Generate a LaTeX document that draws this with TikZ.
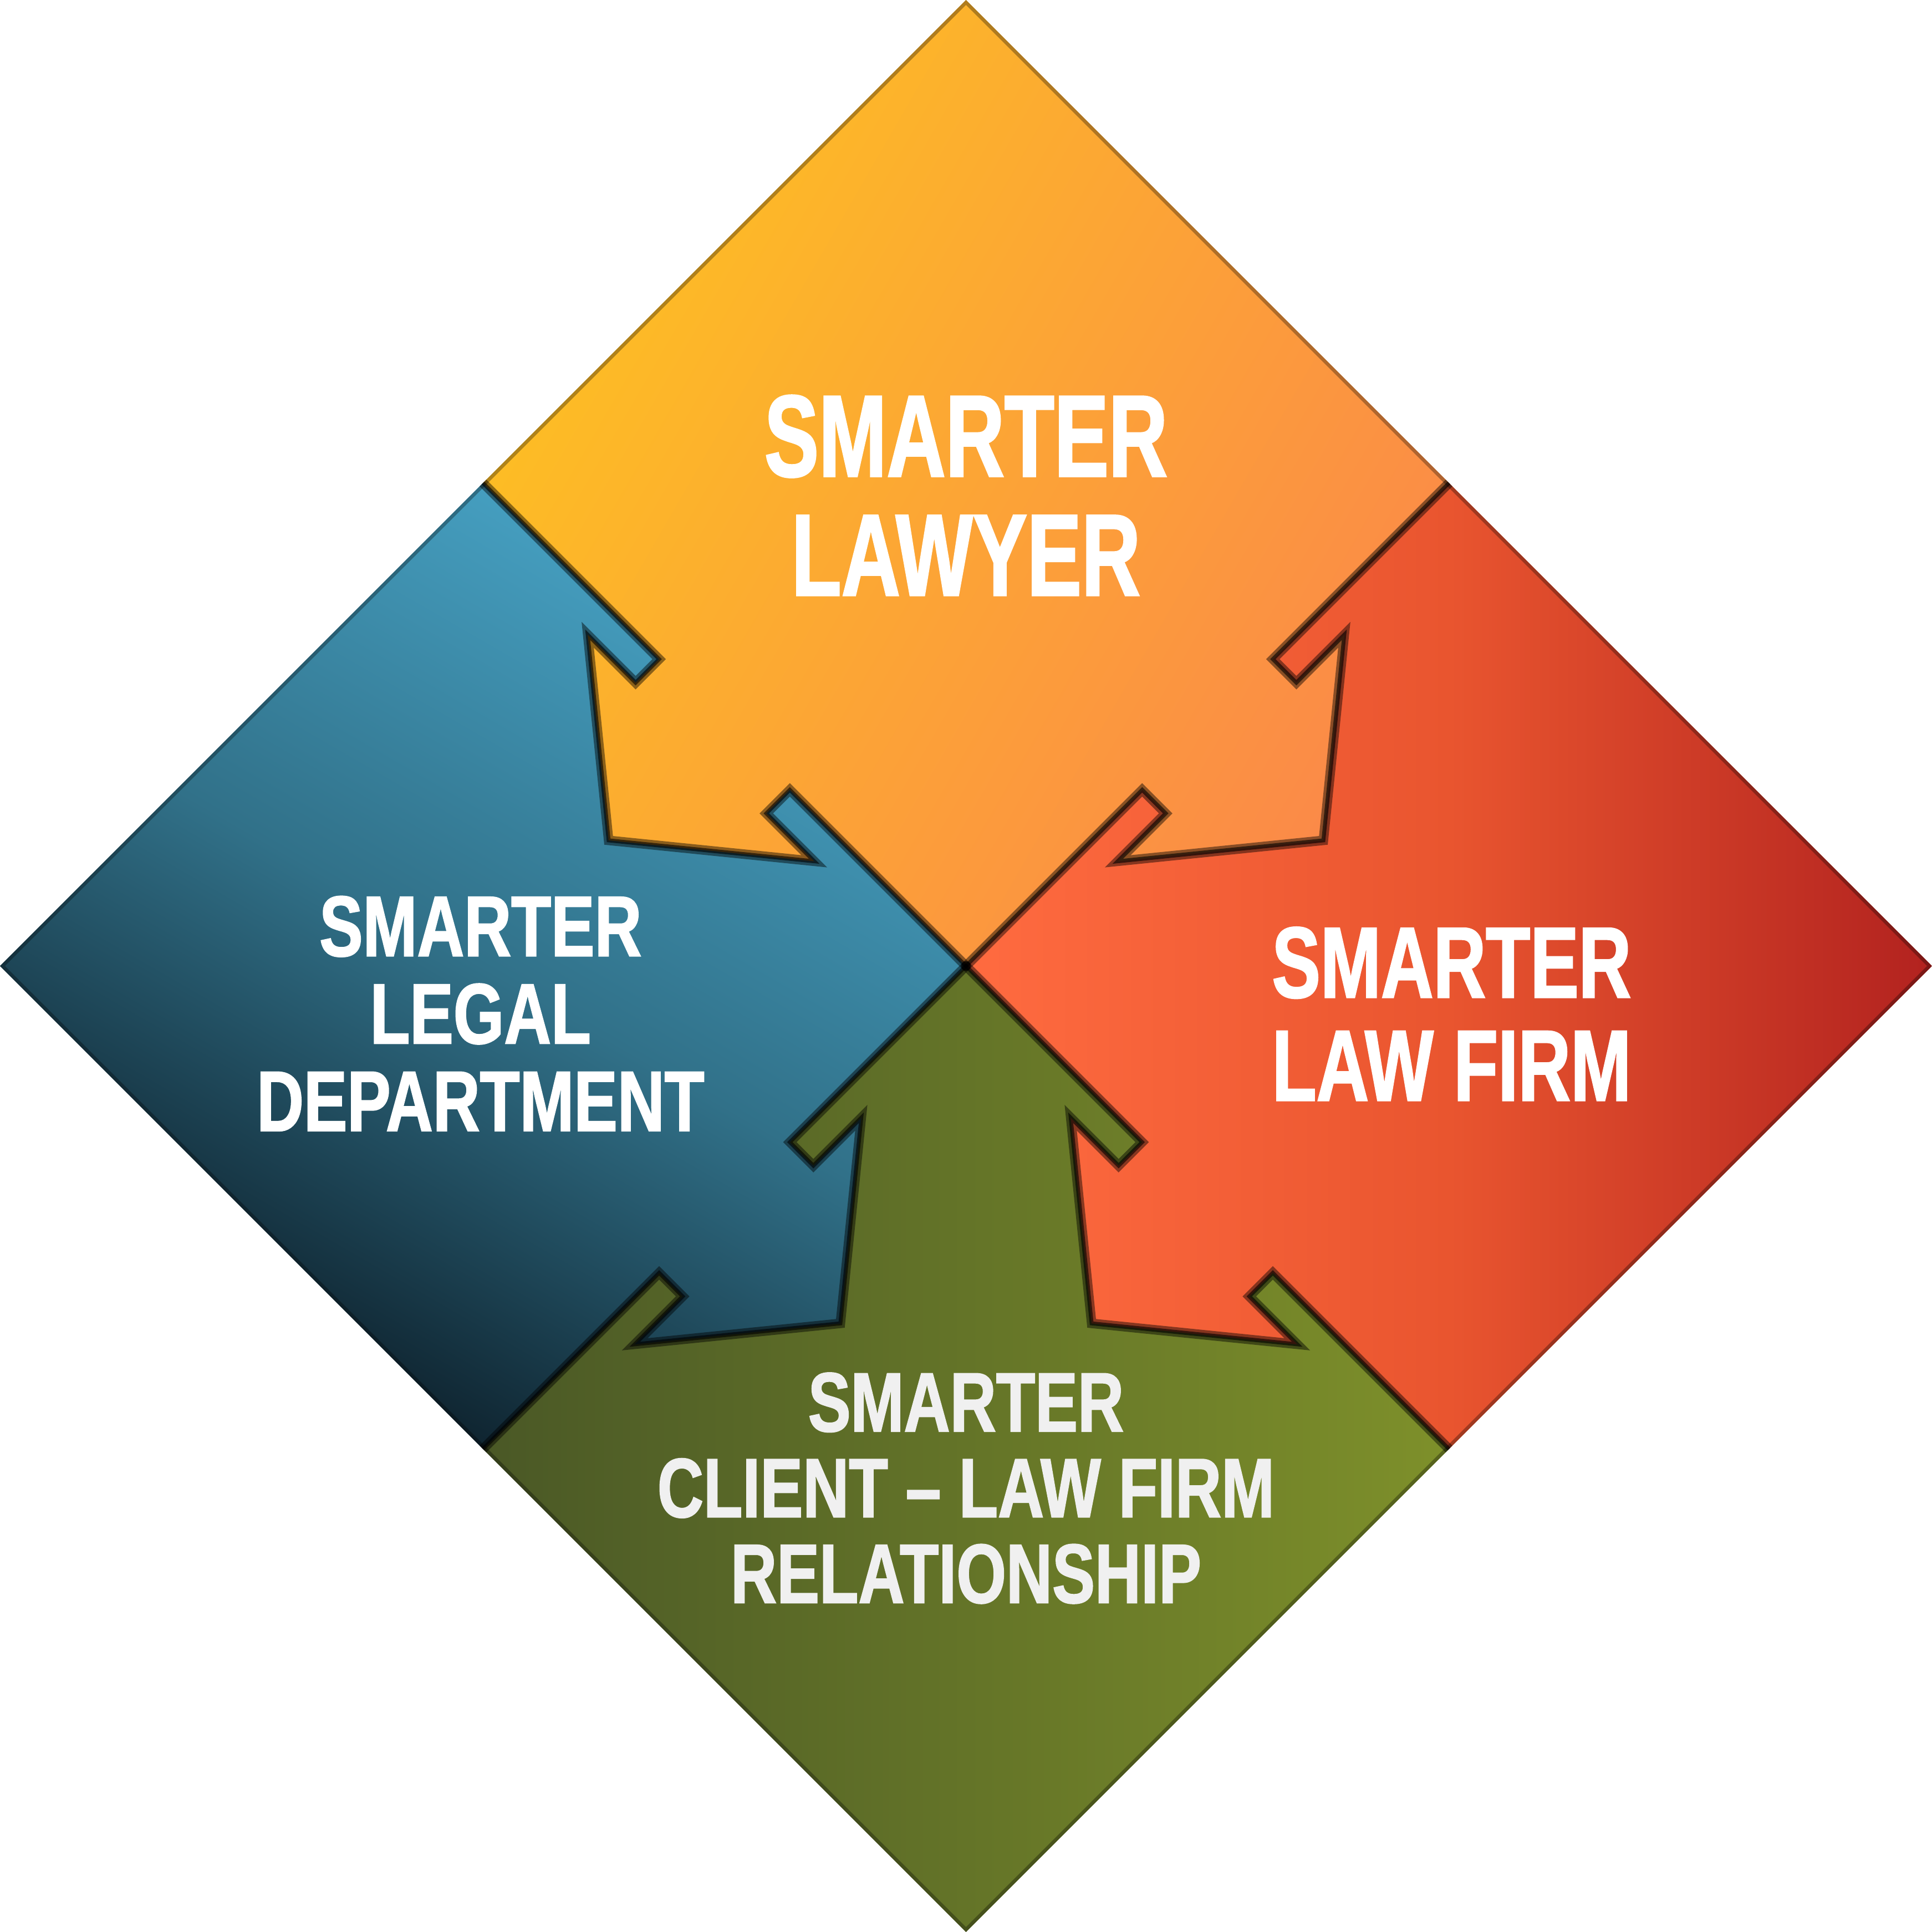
\documentclass[tikz,border=0pt]{standalone}
\usepackage{fontspec}
\newfontfamily\lawyerface{Liberation Sans}[FakeStretch=0.70, FakeBold=1.4]
\newfontfamily\firmface{Liberation Sans}[FakeStretch=0.72, FakeBold=1.4]
\newfontfamily\deptface{Liberation Sans}[FakeStretch=0.76, FakeBold=1.4]

\definecolor{lawyertop}{HTML}{FDC022}
\definecolor{lawyerbottom}{HTML}{FB8A48}
\definecolor{depttop}{HTML}{48A5C8}
\definecolor{deptmid}{HTML}{317189}
\definecolor{deptbottom}{HTML}{0A1923}
\definecolor{firmleft}{HTML}{FF6B40}
\definecolor{firmmid}{HTML}{E9552F}
\definecolor{firmright}{HTML}{B2221F}
\definecolor{clientleft}{HTML}{4A5826}
\definecolor{clientright}{HTML}{7E902A}

\begin{document}
\begin{tikzpicture}[
    tag/.style={text=white, align=center, inner sep=0pt},
    seam/.style={draw=black, draw opacity=.45, line width=2.2pt, line cap=round},
    seamcore/.style={draw=black, draw opacity=.6, line width=.9pt, line cap=round},
    rim/.style={draw=black, draw opacity=.3, line width=1.6pt},
    arrowpath/.style={insert path={(-0.75,-0.1) -- (-0.75,0.27) -- (-1.30,0.27) -- (0,1.33) -- (1.30,0.27) -- (0.75,0.27) -- (0.75,-0.1) -- cycle}},
    seampath/.style={insert path={(-2.772,0) -- (-0.75,0) -- (-0.75,0.27) -- (-1.30,0.27) -- (0,1.33) -- (1.30,0.27) -- (0.75,0.27) -- (0.75,0) -- (2.772,0)}},
    lawyershade/.style={top color=lawyertop, bottom color=lawyerbottom, shading angle=60},
    deptshade/.style={top color=depttop, bottom color=deptbottom, middle color=deptmid, shading angle=-30},
    firmshade/.style={left color=firmleft, right color=firmright, middle color=firmmid},
    clientshade/.style={left color=clientleft, right color=clientright},
    lawyerfont/.style={font=\lawyerface\bfseries\fontsize{26.9}{27.5}\selectfont},
    firmfont/.style={font=\firmface\bfseries\fontsize{23.3}{23.8}\selectfont},
    deptfont/.style={font=\deptface\bfseries\fontsize{19.8}{20.2}\selectfont},
    clientfont/.style={font=\deptface\bfseries\fontsize{19.4}{19.8}\selectfont}
  ]
  \useasboundingbox (-7.84,-7.84) rectangle (7.84,7.84);

  % middles of the four inner edges
  \coordinate (lawyer-dept) at (-1.96,1.96);
  \coordinate (lawyer-firm) at (1.96,1.96);
  \coordinate (dept-client) at (-1.96,-1.96);
  \coordinate (firm-client) at (1.96,-1.96);

  \begin{scope}
    \clip (0,7.84) -- (7.84,0) -- (0,-7.84) -- (-7.84,0) -- cycle;

    % client relationship (bottom)
    \shade[clientshade] (-3.92,-7.84) rectangle (3.92,0);

    % legal department (left) and its arrow
    \begin{scope}
      \clip (0,0) -- (-3.92,3.92) -- (-7.84,0) -- (-3.92,-3.92) -- cycle;
      \shade[deptshade] (-7.84,-3.92) rectangle (0,3.92);
    \end{scope}
    \begin{scope}
      \clip[shift={(dept-client)}, rotate=-135, arrowpath];
      \shade[deptshade] (-7.84,-3.92) rectangle (0,3.92);
    \end{scope}

    % law firm (right) and its arrow
    \begin{scope}
      \clip (0,0) -- (3.92,3.92) -- (7.84,0) -- (3.92,-3.92) -- cycle;
      \shade[firmshade] (0,-3.92) rectangle (7.84,3.92);
    \end{scope}
    \begin{scope}
      \clip[shift={(firm-client)}, rotate=135, arrowpath];
      \shade[firmshade] (0,-3.92) rectangle (7.84,3.92);
    \end{scope}

    % lawyer (top) and its two arrows
    \begin{scope}
      \clip (0,0) -- (-3.92,3.92) -- (0,7.84) -- (3.92,3.92) -- cycle;
      \shade[lawyershade] (-3.92,0) rectangle (3.92,7.84);
    \end{scope}
    \begin{scope}
      \clip[shift={(lawyer-dept)}, rotate=135, arrowpath];
      \shade[lawyershade] (-3.92,0) rectangle (3.92,7.84);
    \end{scope}
    \begin{scope}
      \clip[shift={(lawyer-firm)}, rotate=-135, arrowpath];
      \shade[lawyershade] (-3.92,0) rectangle (3.92,7.84);
    \end{scope}

    % seams between the pieces
    \draw[seam, shift={(lawyer-dept)}, rotate=135, seampath];
    \draw[seam, shift={(lawyer-firm)}, rotate=-135, seampath];
    \draw[seam, shift={(dept-client)}, rotate=-135, seampath];
    \draw[seam, shift={(firm-client)}, rotate=135, seampath];
    \draw[seamcore, shift={(lawyer-dept)}, rotate=135, seampath];
    \draw[seamcore, shift={(lawyer-firm)}, rotate=-135, seampath];
    \draw[seamcore, shift={(dept-client)}, rotate=-135, seampath];
    \draw[seamcore, shift={(firm-client)}, rotate=135, seampath];

    \draw[rim] (0,7.84) -- (7.84,0) -- (0,-7.84) -- (-7.84,0) -- cycle;
  \end{scope}

  % labels
  \node[tag, lawyerfont] (lawyer) at (0,3.82) {SMARTER\\LAWYER};
  \node[tag, deptfont] (dept) at (-3.94,-0.386) {SMARTER\\LEGAL\\DEPARTMENT};
  \node[tag, firmfont] (firm) at (3.941,-0.388) {SMARTER\\LAW FIRM};
  \node[tag, clientfont, text=white!94!black] (client) at (0,-4.238) {SMARTER\\CLIENT – LAW FIRM\\RELATIONSHIP};
\end{tikzpicture}
\end{document}
